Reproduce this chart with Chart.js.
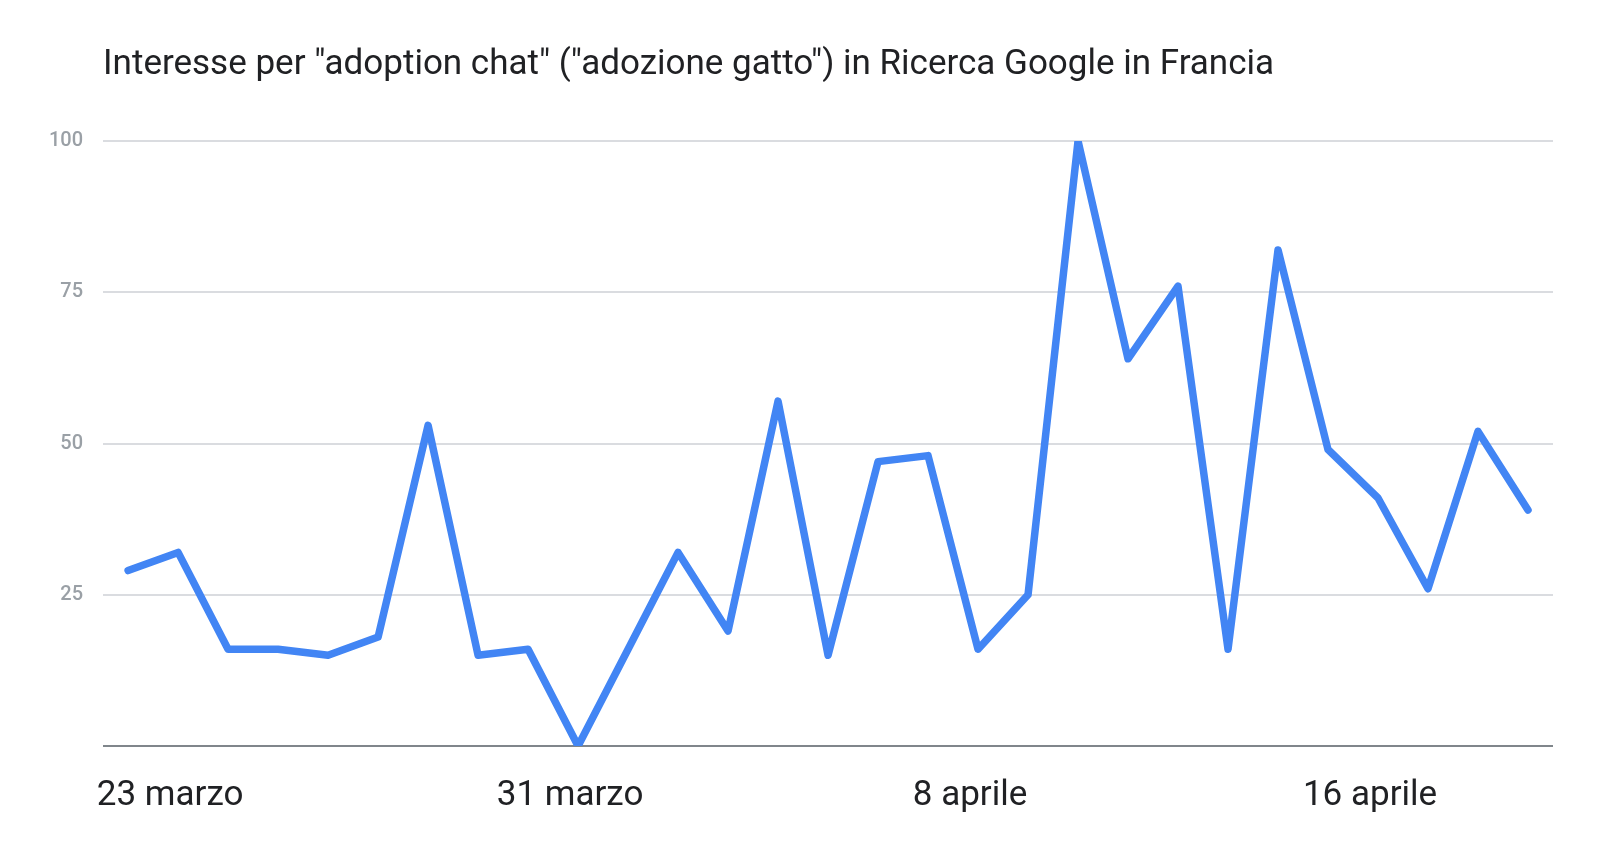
<!DOCTYPE html>
<html>
<head>
<meta charset="utf-8">
<script src="https://cdn.jsdelivr.net/npm/chart.js@4"></script>
<style>
  html, body { margin: 0; padding: 0; background: #fff; }
  #wrap { width: 1600px; height: 850px; }
</style>
</head>
<body>
<div id="wrap"><canvas id="trendChart"></canvas></div>
<script>
const days = [
  '23 marzo', '24 marzo', '25 marzo', '26 marzo', '27 marzo', '28 marzo', '29 marzo', '30 marzo', '31 marzo',
  '1 aprile', '2 aprile', '3 aprile', '4 aprile', '5 aprile', '6 aprile', '7 aprile', '8 aprile',
  '9 aprile', '10 aprile', '11 aprile', '12 aprile', '13 aprile', '14 aprile', '15 aprile', '16 aprile',
  '17 aprile', '18 aprile', '19 aprile', '20 aprile'
];
const interest = [29, 32, 16, 16, 15, 18, 53, 15, 16, 0, 16, 32, 19, 57, 15, 47, 48, 16, 25, 100, 64, 76, 16, 82, 49, 41, 26, 52, 39];
const tickLabels = ['23 marzo', '31 marzo', '8 aprile', '16 aprile'];
const yTicks = [25, 50, 75, 100];
const titleText = 'Interesse per "adoption chat" ("adozione gatto") in Ricerca Google in Francia';

// title starts at the left edge of the plot, not of the canvas
const titleAtPlot = {
  id: 'titleAtPlot',
  afterLayout(chart) {
    if (chart.titleBlock) chart.titleBlock.left = chart.chartArea.left;
  }
};

const ctx = document.getElementById('trendChart').getContext('2d');
const trendChart = new Chart(ctx, {
  type: 'line',
  data: {
    labels: days,
    datasets: [{
      label: 'adozione gatto',
      data: interest,
      borderColor: '#4285f4',
      borderWidth: 7.5,
      borderCapStyle: 'round',
      borderJoinStyle: 'round',
      pointRadius: 0,
      pointHoverRadius: 0,
      tension: 0,
      fill: false
    }]
  },
  options: {
    responsive: true,
    maintainAspectRatio: false,
    animation: false,
    layout: { padding: { left: 29, right: 47, top: 0, bottom: 4 } },
    plugins: {
      legend: { display: false },
      tooltip: { enabled: false },
      title: {
        display: true,
        text: titleText,
        align: 'start',
        color: '#202124',
        font: { family: 'Roboto', size: 35, weight: '400' },
        padding: { top: 44, bottom: 55 }
      }
    },
    scales: {
      x: {
        offset: true,
        grid: { display: false, drawTicks: false },
        border: { display: false },
        ticks: {
          autoSkip: false,
          maxRotation: 0,
          padding: 29,
          labelOffset: 42,
          color: '#202124',
          font: { family: 'Roboto', size: 35 },
          callback: function (value) {
            const lbl = this.getLabelForValue(value);
            return tickLabels.includes(lbl) ? lbl : '';
          }
        }
      },
      y: {
        min: 0,
        max: 100,
        border: { display: false },
        grid: {
          drawTicks: false,
          lineWidth: 2,
          color: c => (c.tick && c.tick.value === 0 ? '#80868b' : '#dadce0')
        },
        afterBuildTicks: axis => {
          axis.ticks = [0, ...yTicks].map(v => ({ value: v }));
        },
        ticks: {
          padding: 20,
          color: '#9aa0a6',
          font: { family: 'Roboto', size: 20, weight: '500' },
          callback: v => (yTicks.includes(v) ? String(v) : '')
        }
      }
    }
  },
  plugins: [titleAtPlot]
});
</script>
</body>
</html>
